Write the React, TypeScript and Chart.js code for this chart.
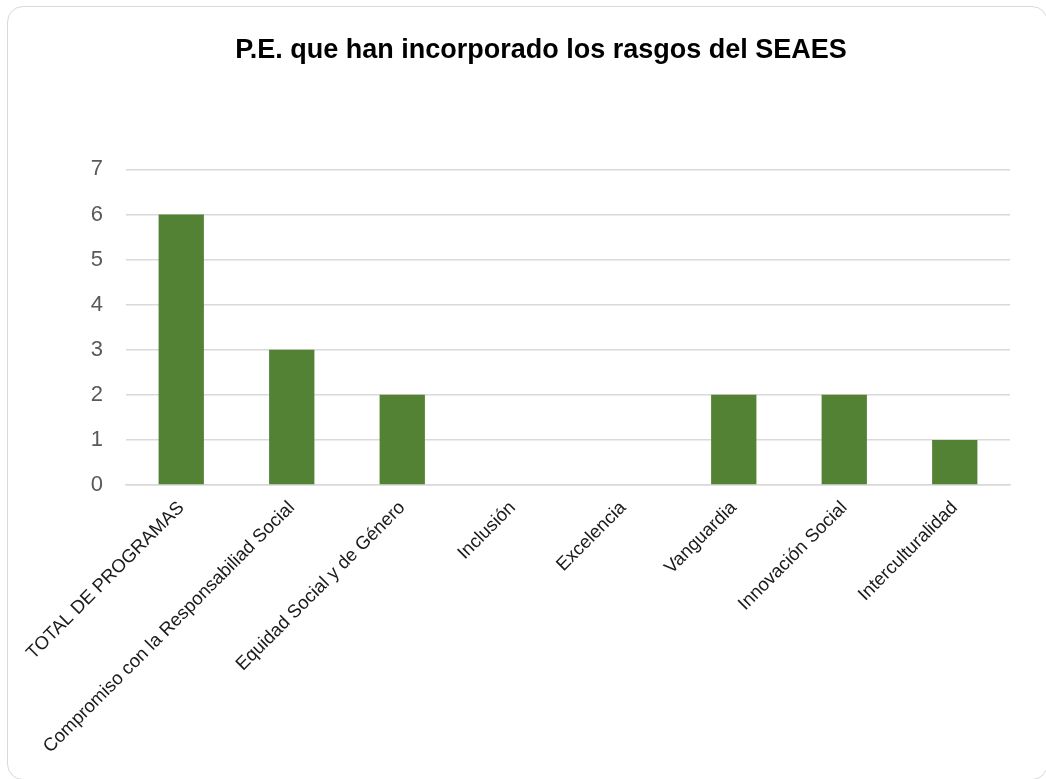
import React, { useEffect, useRef } from "react";
import { Chart, registerables } from "chart.js";

Chart.register(...registerables);

const categories = [
  "TOTAL DE PROGRAMAS",
  "Compromiso con la Responsabiliad Social",
  "Equidad Social y de Género",
  "Inclusión",
  "Excelencia",
  "Vanguardia",
  "Innovación Social",
  "Interculturalidad",
];
const values = [6, 3, 2, 0, 0, 2, 2, 1];
const titleText = "P.E. que han incorporado los rasgos del SEAES";
const yMin = 0;
const yMax = 7;

const FONT = "'Liberation Sans', Arial, sans-serif";

export default function App() {
  const canvasRef = useRef<HTMLCanvasElement | null>(null);

  useEffect(() => {
    document.body.style.margin = "0";
    const canvas = canvasRef.current;
    if (!canvas) return;
    const chart = new Chart(canvas, {
      type: "bar",
      data: {
        labels: categories,
        datasets: [
          {
            data: values,
            backgroundColor: "#548235",
            barPercentage: 0.41,
            categoryPercentage: 1,
          },
        ],
      },
      options: {
        responsive: false,
        animation: false,
        layout: { padding: { left: 72, right: 36, top: 0, bottom: 0 } },
        plugins: {
          legend: { display: false },
          tooltip: { enabled: false },
          title: {
            display: true,
            text: titleText,
            color: "#000000",
            font: { family: FONT, size: 27, weight: "bold", lineHeight: 1.2 },
            padding: { top: 34, bottom: 103 },
          },
        },
        scales: {
          x: {
            grid: { display: false, drawTicks: false },
            border: { display: true, color: "#d9d9d9", width: 1.5 },
            ticks: {
              autoSkip: false,
              minRotation: 45,
              maxRotation: 45,
              padding: 12,
              color: "#1a1a1a",
              font: { family: FONT, size: 18.5 },
            },
            afterFit: (scale: any) => {
              scale.height = 779 - 485;
            },
          },
          y: {
            min: yMin,
            max: yMax,
            ticks: {
              stepSize: 1,
              padding: 23,
              color: "#595959",
              font: { family: FONT, size: 22 },
            },
            grid: { color: "#d9d9d9", lineWidth: 1.5, drawTicks: false },
            border: { display: false },
            afterFit: (scale: any) => {
              scale.width = 126 - 72;
            },
          },
        },
      },
    });
    return () => chart.destroy();
  }, []);

  return (
    <div
      style={{
        position: "absolute",
        left: 0,
        top: 0,
        width: 1046,
        height: 779,
        overflow: "hidden",
        background: "#ffffff",
      }}
    >
      <div
        style={{
          position: "absolute",
          left: 7,
          top: 6,
          width: 1041,
          height: 774,
          border: "1.5px solid #d9d9d9",
          borderRadius: 16,
          boxSizing: "border-box",
        }}
      />
      <canvas ref={canvasRef} width={1046} height={779} style={{ position: "absolute", left: 0, top: 0 }} />
    </div>
  );
}
